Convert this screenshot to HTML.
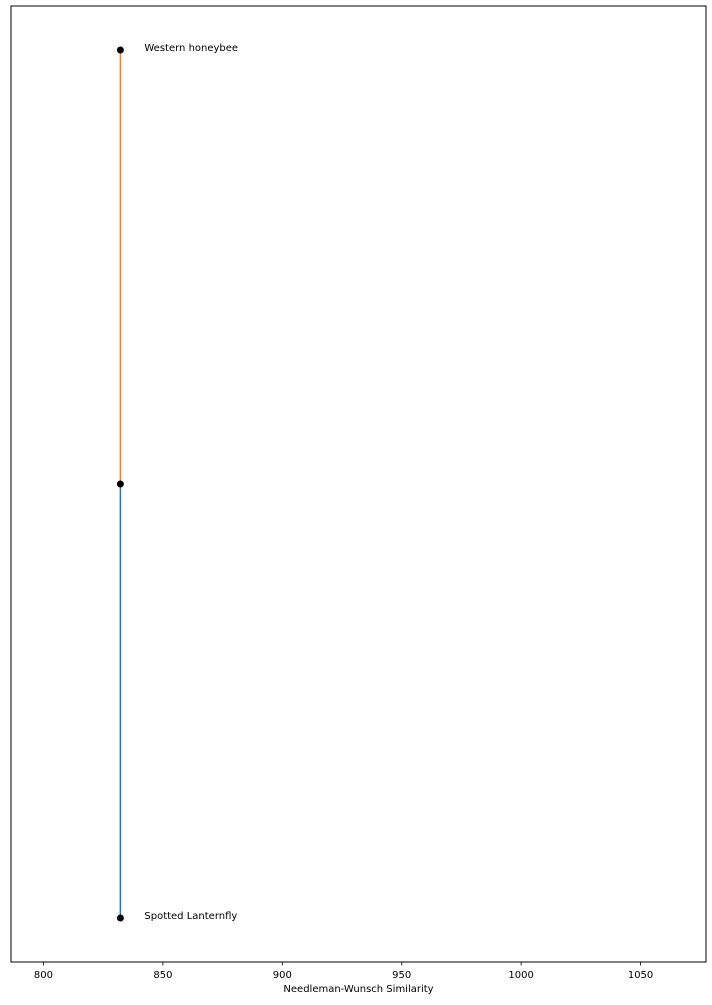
<!DOCTYPE html>
<html><head><meta charset="utf-8"><style>
body{margin:0;background:#fff;}
svg text{font-family:"DejaVu Sans","Liberation Sans",sans-serif;font-size:10px;fill:#000;}
</style></head><body>
<svg id="chart" width="712" height="1000" xmlns="http://www.w3.org/2000/svg"></svg>
<script>
const xTicks=[800,850,900,950,1000,1050];
const leafNames=["Spotted Lanternfly","Western honeybee"];
const leafValues=[832.2,832.2];
const joinValue=832.2;
const svg=document.getElementById('chart');
const NS='http://www.w3.org/2000/svg';
const L=11,R=706,T=6,B=962;
const xMin=786.4,xMax=1077.4;
const yPts=[918,50];
const X=v=>L+(v-xMin)/(xMax-xMin)*(R-L);
function mk(tag,attrs,parent){const e=document.createElementNS(NS,tag);for(const k in attrs)e.setAttribute(k,attrs[k]);(parent||svg).appendChild(e);return e;}
const frame=mk('rect',{x:L,y:T,width:R-L,height:B-T,fill:'none',stroke:'#000','stroke-width':1});


const yMid=(yPts[0]+yPts[1])/2;
const l1=mk('line',{x1:X(leafValues[0]),y1:yPts[0],x2:X(joinValue),y2:yMid,stroke:'#1f77b4','stroke-width':1.5});


const l2=mk('line',{x1:X(leafValues[1]),y1:yPts[1],x2:X(joinValue),y2:yMid,stroke:'#ff7f0e','stroke-width':1.5});


const pts=[[leafValues[0],yPts[0]],[joinValue,yMid],[leafValues[1],yPts[1]]];
pts.forEach(p=>{const c=mk('circle',{cx:X(p[0]),cy:p[1],r:3.5,fill:'#000'});

});
leafNames.forEach((n,i)=>{const t=mk('text',{x:X(leafValues[i])+24,y:yPts[i]+1});t.textContent=n;

});
xTicks.forEach(v=>{const x=X(v);
const tk=mk('line',{x1:x,y1:B,x2:x,y2:B+3.5,stroke:'#000','stroke-width':0.8});


const t=mk('text',{x:x,y:B+16,'text-anchor':'middle'});t.textContent=v;

});
const xt=mk('text',{x:(L+R)/2,y:B+30,'text-anchor':'middle'});xt.textContent='Needleman-Wunsch Similarity';


</script>
</body></html>
